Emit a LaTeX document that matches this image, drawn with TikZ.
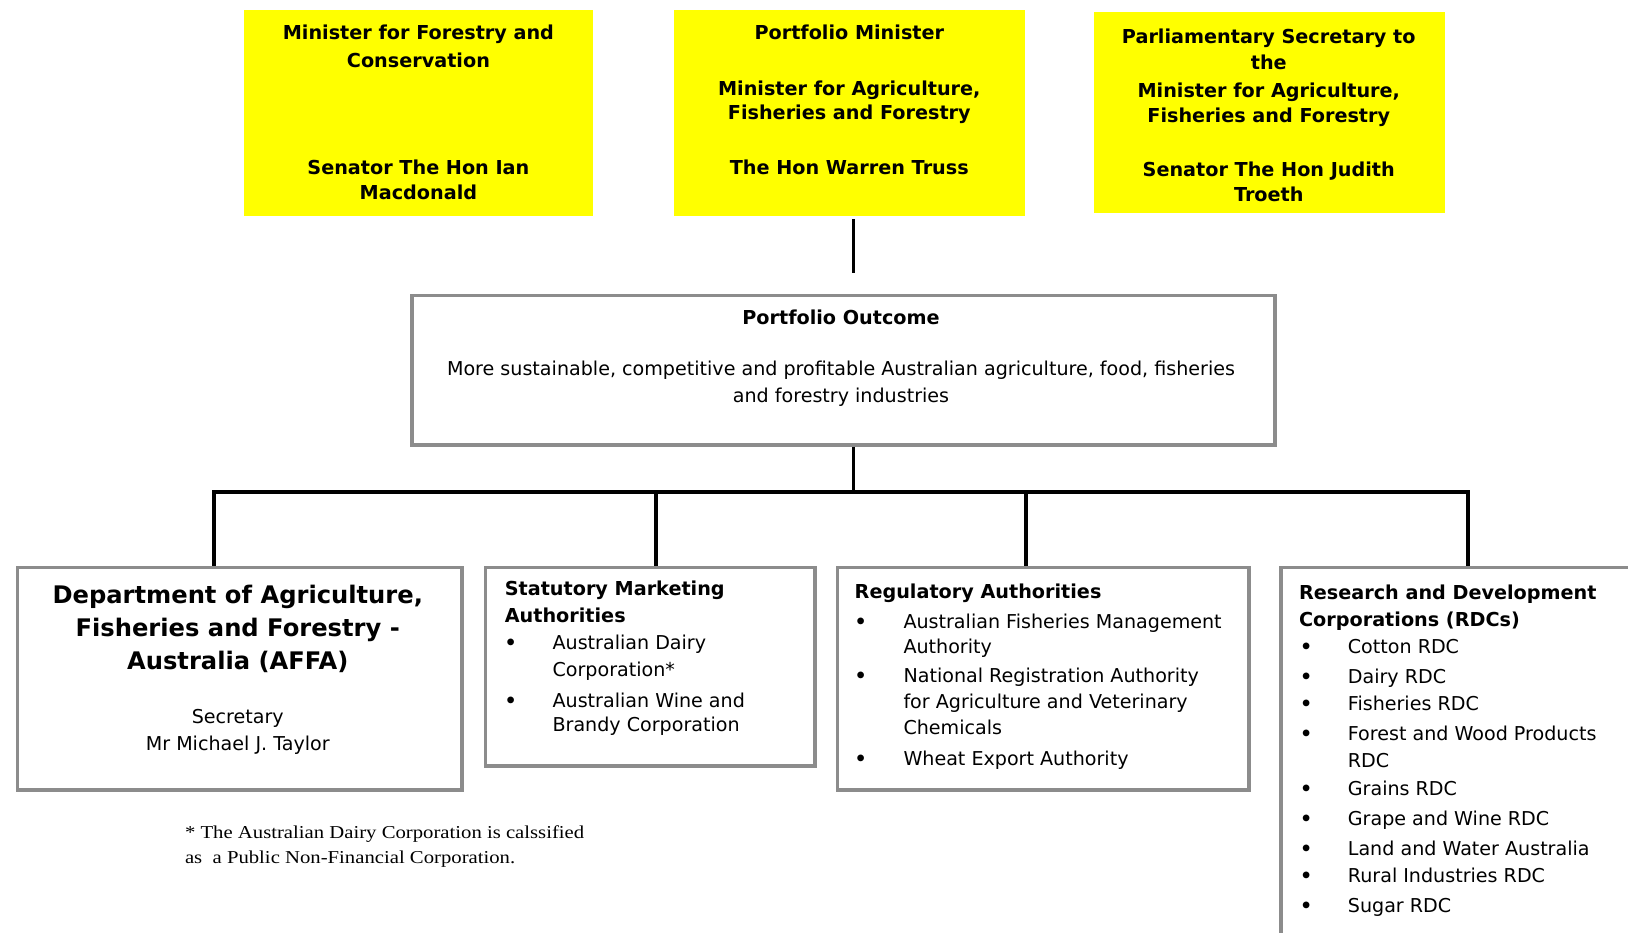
\documentclass[tikz,border=0pt]{standalone}
\usepackage{fontspec}
\setmainfont{DejaVu Sans}
\newfontfamily\fnfont[FakeStretch=1.14]{Liberation Serif}
\definecolor{bordergray}{RGB}{140,140,140}
\definecolor{ylw}{RGB}{255,255,0}
\begin{document}
\begin{tikzpicture}[x=1pt,y=-1pt,
  ybox/.style={fill=ylw, draw=none, inner sep=0pt, anchor=north west},
  gbox/.style={draw=bordergray, line width=3.5pt, fill=white, inner sep=0pt, anchor=north west},
  conn/.style={draw=black, line width=3.5pt},
  tx/.style={inner sep=0pt, anchor=base, font=\fontsize{18.4}{22}\selectfont},
  txl/.style={tx, anchor=base west},
  bt/.style={inner sep=0pt, anchor=base, font=\bfseries\fontsize{18.5}{22}\selectfont},
  btl/.style={bt, anchor=base west},
  big/.style={inner sep=0pt, anchor=base, font=\bfseries\fontsize{23.3}{27}\selectfont},
  bul/.style={inner sep=0pt, anchor=base, font=\bfseries\fontsize{18.4}{22}\selectfont},
  fn/.style={inner sep=0pt, anchor=base west, font=\fnfont\fontsize{17.5}{21}\selectfont}]
\useasboundingbox (0,0) rectangle (1568,898.6);
\clip (0,0) rectangle (1568,898.6);

% yellow minister boxes
\node[ybox, minimum width=336pt, minimum height=199pt] (m1) at (235,9) {};
\node[ybox, minimum width=338pt, minimum height=199pt] (m2) at (649,9) {};
\node[ybox, minimum width=339pt, minimum height=194pt] (m3) at (1053,11) {};

\node[bt] (m1a) at (403,38) {Minister for Forestry and};
\node[bt] (m1b) at (403,65) {Conservation};
\node[bt] (m1c) at (403,168) {Senator The Hon Ian};
\node[bt] (m1d) at (403,192) {Macdonald};

\node[bt] (m2a) at (818,38) {Portfolio Minister};
\node[bt] (m2b) at (818,92) {Minister for Agriculture,};
\node[bt] (m2c) at (818,115) {Fisheries and Forestry};
\node[bt] (m2d) at (818,168) {The Hon Warren Truss};

\node[bt] (m3a) at (1222,42) {Parliamentary Secretary to};
\node[bt] (m3b) at (1222,67) {the};
\node[bt] (m3c) at (1222,94) {Minister for Agriculture,};
\node[bt] (m3d) at (1222,118) {Fisheries and Forestry};
\node[bt] (m3e) at (1222,170) {Senator The Hon Judith};
\node[bt] (m3f) at (1222,194) {Troeth};

% portfolio outcome
\node[gbox, minimum width=831pt, minimum height=144pt] (out) at (395,283) {};
\node[bt] (outa) at (810,313) {Portfolio Outcome};
\node[tx] (outb) at (810,362) {More sustainable, competitive and profitable Australian agriculture, food, fisheries};
\node[tx] (outc) at (810,388) {and forestry industries};

% lower boxes
\node[gbox, minimum width=428pt, minimum height=214pt] (affa) at (15,545) {};
\node[gbox, minimum width=317pt, minimum height=191pt] (stat) at (466,545) {};
\node[gbox, minimum width=396pt, minimum height=214pt] (reg) at (805,545) {};
\node[gbox, minimum width=364pt, minimum height=400pt] (rdc) at (1232,545) {};

% connectors
\coordinate (ta) at (822,211);
\coordinate (tb) at (822,263);
\draw[conn] (ta) -- (tb);
\coordinate (hub) at (822,474);
\coordinate (da) at (206,474);
\coordinate (ds) at (632,474);
\coordinate (dr) at (988,474);
\coordinate (dd) at (1414,474);
\draw[conn] (out.south -| hub) -- (hub);
\draw[conn, line join=miter] (da |- affa.north) -- (da) -- (dd) -- (dd |- rdc.north);
\draw[conn] (ds) -- (ds |- stat.north);
\draw[conn] (dr) -- (dr |- reg.north);

% AFFA text
\node[big] (afa) at (229,581) {Department of Agriculture,};
\node[big] (afb) at (229,613) {Fisheries and Forestry -};
\node[big] (afc) at (229,645) {Australia (AFFA)};
\node[tx] (afd) at (229,697) {Secretary};
\node[tx] (afe) at (229,723) {Mr Michael J. Taylor};

% statutory
\node[btl] (sa) at (486,574) {Statutory Marketing};
\node[btl] (sb) at (486,600) {Authorities};
\node[bul] (sb1) at (492,626) {•};
\node[bul] (sb2) at (492,681) {•};
\node[txl] (s1) at (532,626) {Australian Dairy};
\node[txl] (s2) at (532,652) {Corporation*};
\node[txl] (s3) at (532,681) {Australian Wine and};
\node[txl] (s4) at (532,705) {Brandy Corporation};

% regulatory
\node[btl] (ra) at (823,576) {Regulatory Authorities};
\node[bul] (rb1) at (829,605) {•};
\node[bul] (rb2) at (829,657) {•};
\node[bul] (rb3) at (829,737) {•};
\node[txl] (r1) at (870,605) {Australian Fisheries Management};
\node[txl] (r2) at (870,629) {Authority};
\node[txl] (r3) at (870,657) {National Registration Authority};
\node[txl] (r4) at (870,682) {for Agriculture and Veterinary};
\node[txl] (r5) at (870,707) {Chemicals};
\node[txl] (r6) at (870,737) {Wheat Export Authority};

% RDCs
\node[btl] (da1) at (1251,577) {Research and Development};
\node[btl] (da2) at (1251,603) {Corporations (RDCs)};
\foreach \yy/\nm in {629/c1,658/c2,684/c3,713/c4,766/c5,795/c6,824/c7,850/c8,879/c9}
  \node[bul] (b\nm) at (1258,\yy) {•};
\node[txl] (c1) at (1298,629) {Cotton RDC};
\node[txl] (c2) at (1298,658) {Dairy RDC};
\node[txl] (c3) at (1298,684) {Fisheries RDC};
\node[txl] (c4) at (1298,713) {Forest and Wood Products};
\node[txl] (c4b) at (1298,739) {RDC};
\node[txl] (c5) at (1298,766) {Grains RDC};
\node[txl] (c6) at (1298,795) {Grape and Wine RDC};
\node[txl] (c7) at (1298,824) {Land and Water Australia};
\node[txl] (c8) at (1298,850) {Rural Industries RDC};
\node[txl] (c9) at (1298,879) {Sugar RDC};

% footnote
\node[fn] (fa) at (178,808) {* The Australian Dairy Corporation is calssified};
\node[fn] (fb) at (178,832) {as\ \ a Public Non-Financial Corporation.};
\end{tikzpicture}
\end{document}
